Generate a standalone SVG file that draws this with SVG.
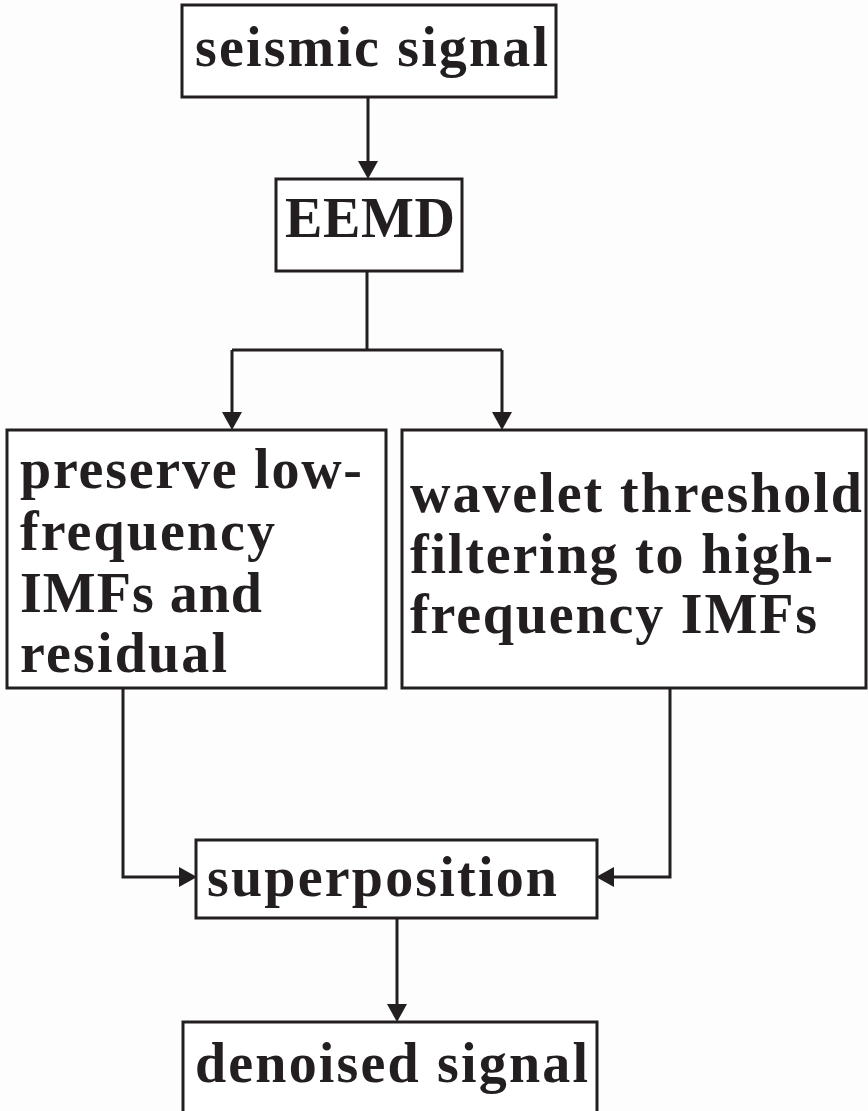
<svg xmlns="http://www.w3.org/2000/svg" width="868" height="1111" viewBox="0 0 868 1111">
  <style>
    .box { fill: #ffffff; stroke: #231f20; stroke-width: 3; }
    .lbl { font-family: "Liberation Serif", "Times New Roman", serif; font-weight: bold; font-size: 56px; fill: #231f20; }
    .wire { fill: none; stroke: #231f20; stroke-width: 3; stroke-linejoin: miter; }
  </style>
  <defs>
    <marker id="arrow" viewBox="0 0 18 20" refX="8" refY="10" markerWidth="18" markerHeight="20" markerUnits="userSpaceOnUse" orient="auto">
      <path d="M0,0 L18,10 L0,20 Z" fill="#231f20"/>
    </marker>
  </defs>
  <rect width="868" height="1111" fill="#fdfdfd"/>

  <!-- connectors -->
  <g id="connectors">
    <path class="wire" d="M368 97 V169" marker-end="url(#arrow)"/>
    <path class="wire" d="M367 271 V350"/>
    <path class="wire" d="M232 350 H502"/>
    <path class="wire" d="M232 350 V420" marker-end="url(#arrow)"/>
    <path class="wire" d="M502 350 V420" marker-end="url(#arrow)"/>
    <path class="wire" d="M123 688 V877 H187" marker-end="url(#arrow)"/>
    <path class="wire" d="M670 688 V877 H606" marker-end="url(#arrow)"/>
    <path class="wire" d="M397 918 V1012" marker-end="url(#arrow)"/>
  </g>

  <g id="node-seismic">
    <rect class="box" x="182" y="5" width="374" height="92"/>
    <text class="lbl" x="195" y="66" textLength="353" lengthAdjust="spacing">seismic signal</text>
  </g>

  <g id="node-eemd">
    <rect class="box" x="276" y="179" width="186" height="92"/>
    <text class="lbl" x="285" y="237" textLength="170" lengthAdjust="spacing">EEMD</text>
  </g>

  <g id="node-preserve">
    <rect class="box" x="7" y="430" width="379" height="258"/>
    <text class="lbl" x="20" y="488" textLength="342" lengthAdjust="spacing">preserve low-</text>
    <text class="lbl" x="20" y="550" textLength="255" lengthAdjust="spacing">frequency</text>
    <text class="lbl" x="20" y="612" textLength="242" lengthAdjust="spacing">IMFs and</text>
    <text class="lbl" x="20" y="672" textLength="207" lengthAdjust="spacing">residual</text>
  </g>

  <g id="node-wavelet">
    <rect class="box" x="402" y="430" width="464" height="258"/>
    <text class="lbl" x="410" y="512" textLength="452" lengthAdjust="spacing">wavelet threshold</text>
    <text class="lbl" x="410" y="573" textLength="423" lengthAdjust="spacing">filtering to high-</text>
    <text class="lbl" x="410" y="633" textLength="407" lengthAdjust="spacing">frequency IMFs</text>
  </g>

  <g id="node-superposition">
    <rect class="box" x="196" y="840" width="401" height="78"/>
    <text class="lbl" x="207" y="896" textLength="350" lengthAdjust="spacing">superposition</text>
  </g>

  <g id="node-denoised">
    <rect class="box" x="183" y="1022" width="414" height="100"/>
    <text class="lbl" x="195" y="1082" textLength="393" lengthAdjust="spacing">denoised signal</text>
  </g>
</svg>
